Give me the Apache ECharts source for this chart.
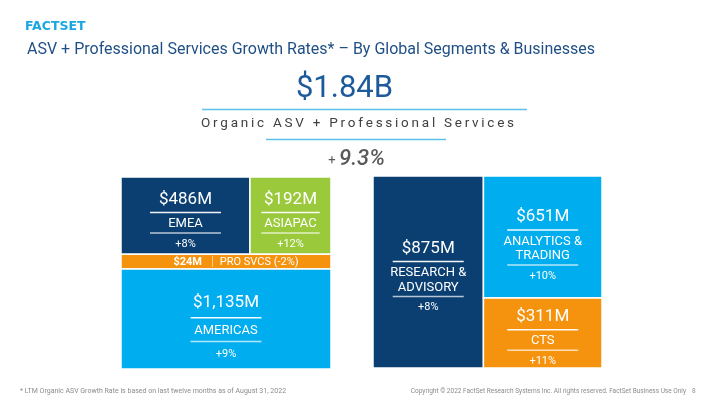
<!DOCTYPE html>
<html>
<head>
<meta charset="utf-8">
<script src="https://cdn.jsdelivr.net/npm/echarts@6/dist/echarts.min.js"></script>
<style>
html,body{margin:0;padding:0;background:#fff;}
#main{width:720px;height:405px;}
</style>
</head>
<body>
<div id="main"></div>
<script>
// ---------------- data ----------------
const totalLabel = '$1.84B';
const totalCaption = 'Organic ASV + Professional Services';
const totalGrowth = 9.3;

const segmentNames = ['EMEA', 'ASIAPAC', 'PRO SVCS', 'AMERICAS'];
const segmentValues = [486, 192, 24, 1135];
const segmentGrowth = [8, 12, -2, 9];
const segmentGroups = [[0, 1], [2], [3]];

const businessNames = ['RESEARCH &\nADVISORY', 'ANALYTICS &\nTRADING', 'CTS'];
const businessValues = [875, 651, 311];
const businessGrowth = [8, 10, 11];
const businessGroups = [[0], [1, 2]];

// ---------------- styles ----------------
const NAVY = '#0b3f72', GREEN = '#9aca3c', ORANGE = '#f5930f', SKY = '#00adee';
const segmentColors = [NAVY, GREEN, ORANGE, SKY];
const businessColors = [NAVY, SKY, ORANGE];
const FONT = 'Roboto, "Noto Sans", sans-serif';
const LEFT_SIZE_EXPONENT = 0.5;   // tile size scaling (compressed, as in the slide)
const RIGHT_SIZE_EXPONENT = 0.75;

// slice-and-dice layout computed from the values (outer groups, then members)
function buildCells(values, groups, growth, exponent, outerIsY) {
  const total = values.reduce((a, b) => a + b, 0);
  const wt = v => Math.pow(v, exponent);
  const groupSums = groups.map(g => g.reduce((a, i) => a + values[i], 0));
  const gW = groupSums.map(wt);
  const gWTotal = gW.reduce((a, b) => a + b, 0);
  const cells = [];
  let acc = 0;
  groups.forEach((g, gi) => {
    const o0 = acc / gWTotal * total; acc += gW[gi]; const o1 = acc / gWTotal * total;
    const mW = g.map(i => wt(values[i]));
    const mTotal = mW.reduce((a, b) => a + b, 0);
    let inner = 0;
    g.forEach((i, k) => {
      const i0 = inner / mTotal; inner += mW[k]; const i1 = inner / mTotal;
      const r = outerIsY ? [i0, i1, o0, o1] : [o0, o1, i0, i1];
      cells.push([r[0], r[1], r[2], r[3], values[i], growth[i], i]);
    });
  });
  return { cells, total };
}

const left = buildCells(segmentValues, segmentGroups, segmentGrowth, LEFT_SIZE_EXPONENT, true);
const right = buildCells(businessValues, businessGroups, businessGrowth, RIGHT_SIZE_EXPONENT, false);

function fmtMoney(v) { return '$' + v.toLocaleString('en-US') + 'M'; }
function fmtGrowth(g) { return (g >= 0 ? '+' : '') + g + '%'; }

function makeRenderItem(names, colors) {
  return function (params, api) {
    const a = api.coord([api.value(0), api.value(2)]);
    const b = api.coord([api.value(1), api.value(3)]);
    const x = Math.min(a[0], b[0]), y = Math.min(a[1], b[1]);
    const w = Math.abs(b[0] - a[0]), h = Math.abs(b[1] - a[1]);
    const val = api.value(4), gr = api.value(5), idx = api.value(6);
    const cx = x + w / 2, cy = y + h / 2;
    const children = [{
      type: 'rect',
      shape: { x: x, y: y, width: w, height: h },
      style: { fill: colors[idx], stroke: '#ffffff', lineWidth: 1.5 }
    }];
    if (h < 30) {
      children.push({
        type: 'text',
        style: {
          x: cx + 10, y: cy + 0.5,
          text: '{v|' + fmtMoney(val) + '}{s|   |  }{n|' + names[idx] + ' (' + fmtGrowth(gr) + ')}',
          align: 'center', verticalAlign: 'middle',
          rich: {
            v: { fill: '#ffffff', font: 'bold 11px ' + FONT },
            s: { fill: 'rgba(255,255,255,0.6)', font: '12px ' + FONT },
            n: { fill: '#ffffff', font: '11px ' + FONT }
          }
        }
      });
    } else {
      const nameLines = names[idx].split('\n');
      const spread = (h > 90 && nameLines.length === 1) ? 1.16 : 1;
      const g1 = 13 * spread, g2 = 11.5 * spread, g3 = 9 * spread, g4 = 11 * spread, lh = 14.5;
      const totalH = g1 + g2 + (nameLines.length - 1) * lh + g3 + g4;
      const lineW = Math.min(71, w * 0.72);
      const offset = (h > 95 && h < 150) ? 9.5 : 6;
      let yy = cy - totalH / 2 + offset;
      children.push({ type: 'text', style: { x: cx, y: yy, text: fmtMoney(val), fill: '#fff', font: '17px ' + FONT, align: 'center', verticalAlign: 'middle' } });
      yy += g1;
      children.push({ type: 'rect', shape: { x: cx - lineW / 2, y: yy - 0.75, width: lineW, height: 1.5 }, style: { fill: 'rgba(255,255,255,0.95)' } });
      yy += g2;
      nameLines.forEach((ln, k) => {
        children.push({ type: 'text', style: { x: cx, y: yy + k * lh, text: ln, fill: '#fff', font: '13px ' + FONT, align: 'center', verticalAlign: 'middle' } });
      });
      yy += (nameLines.length - 1) * lh + g3;
      children.push({ type: 'rect', shape: { x: cx - lineW / 2, y: yy - 0.75, width: lineW, height: 1.5 }, style: { fill: 'rgba(255,255,255,0.7)' } });
      yy += g4;
      children.push({ type: 'text', style: { x: cx, y: yy, text: fmtGrowth(gr), fill: '#fff', font: '11px ' + FONT, align: 'center', verticalAlign: 'middle' } });
    }
    return { type: 'group', children: children };
  };
}

const spaced = totalCaption.split('').join('\u2009');

const chart = echarts.init(document.getElementById('main'), null, { renderer: 'canvas' });
chart.setOption({
  animation: false,
  backgroundColor: '#ffffff',
  grid: [
    { left: 121, top: 177, width: 210, height: 192 },
    { left: 373, top: 176, width: 229, height: 192 }
  ],
  xAxis: [
    { gridIndex: 0, type: 'value', min: 0, max: 1, show: false },
    { gridIndex: 1, type: 'value', min: 0, max: right.total, show: false }
  ],
  yAxis: [
    { gridIndex: 0, type: 'value', min: 0, max: left.total, inverse: true, show: false },
    { gridIndex: 1, type: 'value', min: 0, max: 1, inverse: true, show: false }
  ],
  series: [
    { type: 'custom', name: 'Segments', xAxisIndex: 0, yAxisIndex: 0, renderItem: makeRenderItem(segmentNames, segmentColors), data: left.cells, clip: false },
    { type: 'custom', name: 'Businesses', xAxisIndex: 1, yAxisIndex: 1, renderItem: makeRenderItem(businessNames, businessColors), data: right.cells, clip: false }
  ],
  graphic: [
    { type: 'text', x: 25, y: 27, style: { text: 'FACTSET', fill: '#19a7e2', font: 'bold 12.5px "DejaVu Sans", sans-serif', verticalAlign: 'middle' } },
    { type: 'text', x: 27, y: 50, style: { text: 'ASV + Professional Services Growth Rates* \u2013 By Global Segments & Businesses', fill: '#1f4f85', font: '16px ' + FONT, verticalAlign: 'middle' } },
    { type: 'text', x: 344.5, y: 89, style: { text: totalLabel, fill: '#1c5a9b', font: '31px ' + FONT, align: 'center', verticalAlign: 'middle' } },
    { type: 'line', shape: { x1: 202, y1: 109.5, x2: 527, y2: 109.5 }, style: { stroke: '#5ec1ec', lineWidth: 1.5 } },
    { type: 'text', x: 357.5, y: 123.5, style: { text: spaced, fill: '#404040', font: '13.5px ' + FONT, align: 'center', verticalAlign: 'middle' } },
    { type: 'line', shape: { x1: 266, y1: 139.5, x2: 446, y2: 139.5 }, style: { stroke: '#5ec1ec', lineWidth: 1.5 } },
    { type: 'text', x: 332, y: 161, style: { text: '+', fill: '#595959', font: '13px ' + FONT, align: 'center', verticalAlign: 'middle' } },
    { type: 'text', x: 339, y: 159.5, style: { text: totalGrowth.toFixed(1) + '%', fill: '#595959', font: 'italic 500 22px ' + FONT, verticalAlign: 'middle' } },
    { type: 'text', x: 20, y: 391, style: { text: '* LTM Organic ASV Growth Rate is based on last twelve months as of August 31, 2022', fill: '#8c8c8c', font: '7px ' + FONT, verticalAlign: 'middle' } },
    { type: 'text', x: 686, y: 391, style: { text: 'Copyright \u00a9 2022 FactSet Research Systems Inc. All rights reserved. FactSet Business Use Only', fill: '#8c8c8c', font: '6.5px ' + FONT, align: 'right', verticalAlign: 'middle' } },
    { type: 'text', x: 692, y: 391, style: { text: '8', fill: '#8c8c8c', font: '6.5px ' + FONT, verticalAlign: 'middle' } }
  ]
});
</script>
</body>
</html>
